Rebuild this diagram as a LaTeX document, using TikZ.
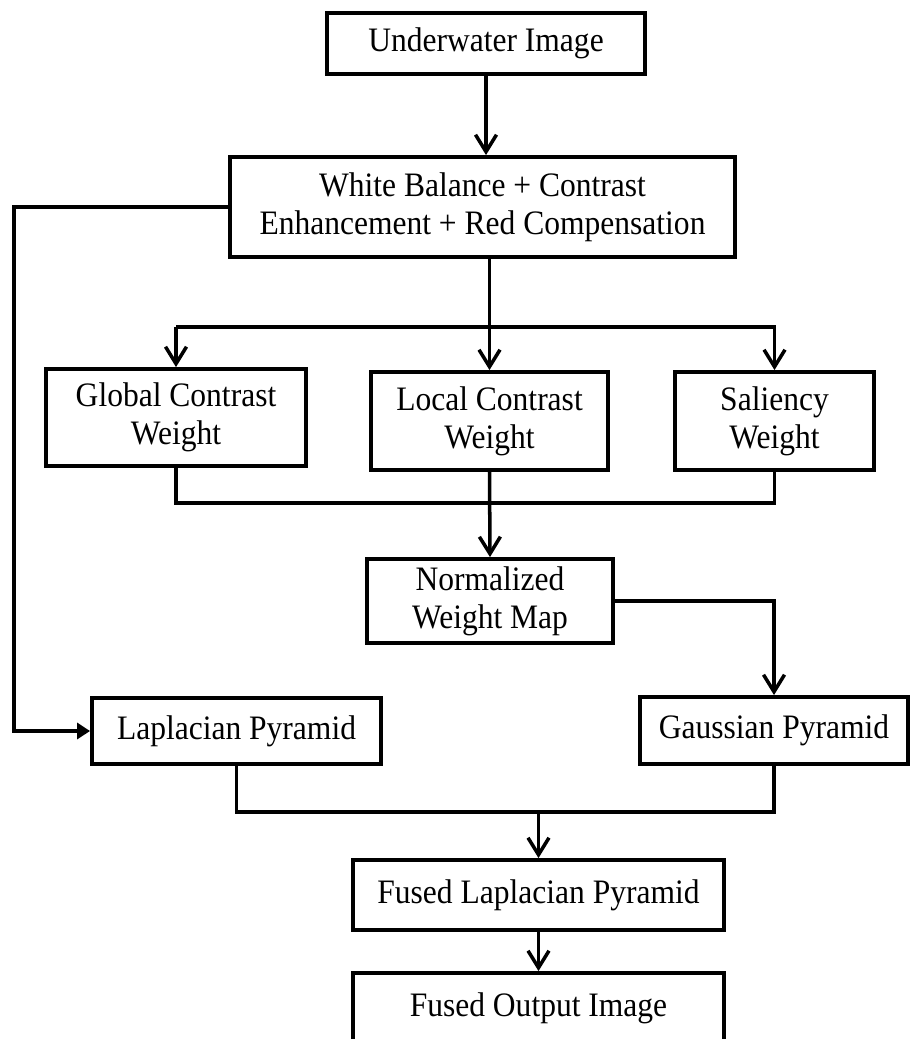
\documentclass[tikz,border=0pt]{standalone}
\usepackage{fontspec}
\setmainfont{Liberation Serif}[FakeStretch=0.92]
\usetikzlibrary{arrows.meta,positioning,calc}

\begin{document}
\begin{tikzpicture}[x=0.2mm,y=-0.2mm,
every node/.style={font=\fontsize{19.5}{21.5}\selectfont},
blk/.style={draw,line width=2.2pt,align=center,inner sep=2pt},
arr/.style={-{Straight Barb[length=3.4mm,width=4.2mm]},line width=2pt},
lin/.style={line width=2pt},
tri/.style={-{Triangle[length=2.6mm,width=3.2mm]},line width=2pt}
]
\path[use as bounding box,clip] (0,0) rectangle (917,1039);
\node[blk,minimum width=6.36cm,minimum height=1.22cm] (under) at (486,43.5) {Underwater Image};
\node[blk,minimum width=10.1cm,minimum height=2cm] (wb) at (482.5,207) {White Balance + Contrast\\ Enhancement + Red Compensation};
\node[blk,minimum width=5.2cm,minimum height=1.94cm] (glob) at (176,417.5) {Global Contrast\\ Weight};
\node[blk,minimum width=4.74cm,minimum height=1.96cm] (loc) at (489.5,421) {Local Contrast\\ Weight};
\node[blk,minimum width=3.98cm,minimum height=1.96cm] (sal) at (774.5,421) {Saliency\\ Weight};
\node[blk,minimum width=4.92cm,minimum height=1.68cm] (norm) at (490,601) {Normalized\\ Weight Map};
\node[blk,minimum width=5.78cm,minimum height=1.32cm] (lap) at (236.5,731) {Laplacian Pyramid};
\node[blk,minimum width=5.36cm,minimum height=1.34cm] (gau) at (774,730.5) {Gaussian Pyramid};
\node[blk,minimum width=7.42cm,minimum height=1.4cm] (flap) at (538.5,895) {Fused Laplacian Pyramid};
\node[blk,minimum width=7.42cm,minimum height=1.4cm] (fout) at (538.5,1008) {Fused Output Image};
\coordinate (left) at (14,0);
\coordinate (bus1) at (0,327);
\coordinate (bus2) at (0,503);
\coordinate (bus3) at (0,812);
\draw[arr] (under.south) -- (under.south |- wb.north);
\draw[tri] (wb.west) -- (wb.west -| left) |- (lap.west);
\draw[arr] (loc.north |- wb.south) -- (loc.north);
\draw[arr] (bus1 -| glob.north) -- (glob.north);
\draw[arr] (bus1 -| glob.north) -| (sal.north);
\draw[lin] (glob.south) |- (bus2 -| sal.south) -- (sal.south);
\draw[arr] (loc.south) -- (norm.north);
\draw[arr] (norm.east) -| (gau.north);
\draw[lin] (lap.south) |- (bus3 -| gau.south) -- (gau.south);
\draw[arr] (bus3 -| flap.north) -- (flap.north);
\draw[arr] (flap) -- (fout);
\end{tikzpicture}
\end{document}
